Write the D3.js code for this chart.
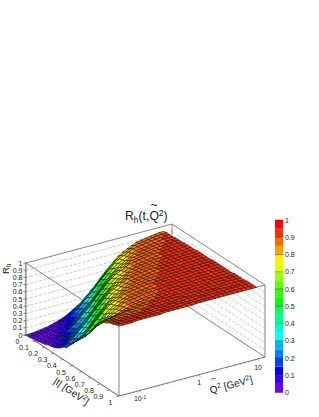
<!DOCTYPE html>
<html><head><meta charset="utf-8">
<style>html,body{margin:0;padding:0;background:#fff}svg{display:block}text{font-family:"Liberation Sans",Arial,sans-serif;fill:#222}</style>
<script src="https://cdn.jsdelivr.net/npm/d3@7/dist/d3.min.js"></script>
</head><body><svg id="c" width="319" height="417"></svg>
<script>
const tValues=[0,.033,.067,.1,.133,.167,.2,.233,.267,.3,.333,.367,.4,.433,.467,.5,.533,.567,.6,.633,.667,.7,.733,.767,.8,.833,.867,.9,.933,.967,1];
const qValues=[.046,.055,.066,.078,.094,.112,.134,.16,.191,.229,.273,.327,.391,.467,.559,.668,.799,.955,1.14,1.37,1.63,1.95,2.33,2.79,3.34,3.99,4.77,5.7,6.82,8.16,9.75];
const rValues=[
[0,0,.01,.02,.03,.04,.06,.08,.1,.13,.17,.21,.25,.31,.37,.43,.5,.57,.63,.69,.75,.79,.82,.85,.88,.89,.9,.91,.92,.93,.93],
[0,.01,.02,.03,.04,.06,.08,.1,.13,.17,.21,.25,.31,.37,.43,.5,.57,.63,.69,.75,.79,.82,.85,.88,.89,.9,.91,.92,.93,.93,.94],
[.01,.02,.03,.04,.06,.08,.1,.13,.17,.21,.25,.31,.37,.43,.5,.57,.63,.69,.75,.79,.82,.85,.88,.89,.9,.91,.92,.93,.93,.94,.94],
[.01,.02,.03,.05,.07,.09,.11,.15,.19,.23,.28,.34,.4,.46,.53,.6,.66,.72,.77,.8,.83,.86,.88,.89,.9,.91,.92,.93,.94,.94,.94],
[.02,.03,.04,.06,.08,.1,.13,.17,.21,.25,.31,.37,.43,.5,.57,.63,.69,.75,.79,.82,.85,.88,.89,.9,.91,.92,.93,.93,.94,.94,.95],
[.03,.04,.06,.08,.1,.13,.17,.21,.25,.31,.37,.43,.5,.57,.63,.69,.75,.79,.82,.85,.88,.89,.9,.91,.92,.93,.93,.94,.94,.95,.95],
[.04,.06,.08,.1,.13,.17,.21,.25,.31,.37,.43,.5,.57,.63,.69,.75,.79,.82,.85,.88,.89,.9,.91,.92,.93,.93,.94,.94,.95,.95,.95],
[.06,.08,.1,.13,.17,.21,.25,.31,.37,.43,.5,.57,.63,.69,.75,.79,.82,.85,.88,.89,.9,.91,.92,.93,.93,.94,.94,.95,.95,.95,.96],
[.07,.09,.11,.15,.19,.23,.28,.34,.4,.46,.53,.6,.66,.72,.77,.8,.83,.86,.88,.89,.9,.91,.92,.93,.94,.94,.95,.95,.95,.96,.96],
[.08,.1,.13,.17,.21,.25,.31,.37,.43,.5,.57,.63,.69,.75,.79,.82,.85,.88,.89,.9,.91,.92,.93,.93,.94,.94,.95,.95,.95,.96,.96],
[.1,.13,.17,.21,.25,.31,.37,.43,.5,.57,.63,.69,.75,.79,.82,.85,.88,.89,.9,.91,.92,.93,.93,.94,.94,.95,.95,.95,.96,.96,.96],
[.13,.17,.21,.25,.31,.37,.43,.5,.57,.63,.69,.75,.79,.82,.85,.88,.89,.9,.91,.92,.93,.93,.94,.94,.95,.95,.95,.96,.96,.96,.97],
[.17,.21,.25,.31,.37,.43,.5,.57,.63,.69,.75,.79,.82,.85,.88,.89,.9,.91,.92,.93,.93,.94,.94,.95,.95,.95,.96,.96,.96,.97,.97],
[.19,.23,.28,.34,.4,.46,.53,.6,.66,.72,.77,.8,.83,.86,.88,.89,.9,.91,.92,.93,.94,.94,.95,.95,.95,.96,.96,.96,.97,.97,.97],
[.25,.28,.31,.37,.43,.5,.57,.63,.69,.75,.79,.82,.85,.88,.89,.9,.91,.92,.93,.93,.94,.94,.95,.95,.95,.96,.96,.96,.97,.97,.97],
[.3,.33,.37,.43,.5,.57,.63,.69,.75,.79,.82,.85,.88,.89,.9,.91,.92,.93,.93,.94,.94,.95,.95,.95,.96,.96,.96,.97,.97,.97,.97],
[.36,.38,.43,.5,.57,.63,.69,.75,.79,.82,.85,.88,.89,.9,.91,.92,.93,.93,.94,.94,.95,.95,.95,.96,.96,.96,.97,.97,.97,.97,.98],
[.41,.45,.5,.57,.63,.69,.75,.79,.82,.85,.88,.89,.9,.91,.92,.93,.93,.94,.94,.95,.95,.95,.96,.96,.96,.97,.97,.97,.97,.98,.98],
[.46,.49,.53,.59,.65,.71,.76,.8,.83,.86,.88,.89,.9,.91,.92,.93,.94,.94,.95,.95,.95,.96,.96,.96,.97,.97,.97,.97,.98,.98,.98],
[.51,.55,.6,.65,.7,.75,.79,.82,.85,.88,.89,.9,.91,.92,.93,.93,.94,.94,.95,.95,.95,.96,.96,.96,.97,.97,.97,.97,.98,.98,.98],
[.58,.62,.66,.7,.74,.78,.82,.85,.88,.89,.9,.91,.92,.93,.93,.94,.94,.95,.95,.95,.96,.96,.96,.97,.97,.97,.97,.98,.98,.98,.98],
[.66,.69,.72,.75,.78,.81,.83,.86,.88,.89,.9,.91,.92,.93,.93,.94,.94,.95,.95,.95,.96,.96,.96,.97,.97,.97,.97,.98,.98,.98,.98],
[.72,.75,.77,.79,.81,.83,.85,.87,.89,.9,.91,.92,.93,.93,.94,.94,.95,.95,.95,.96,.96,.96,.97,.97,.97,.97,.98,.98,.98,.98,.98],
[.79,.8,.82,.83,.85,.86,.88,.89,.9,.91,.92,.93,.93,.94,.94,.95,.95,.95,.96,.96,.96,.97,.97,.97,.97,.98,.98,.98,.98,.98,.99],
[.85,.86,.87,.88,.89,.9,.91,.91,.92,.93,.93,.94,.94,.95,.95,.95,.96,.96,.96,.97,.97,.97,.97,.98,.98,.98,.98,.98,.99,.99,.99],
[.88,.89,.89,.9,.91,.91,.92,.92,.93,.93,.94,.94,.95,.95,.95,.96,.96,.96,.97,.97,.97,.97,.98,.98,.98,.98,.98,.99,.99,.99,.99],
[.9,.91,.91,.92,.92,.93,.93,.93,.94,.94,.95,.95,.95,.96,.96,.96,.97,.97,.97,.97,.98,.98,.98,.98,.98,.99,.99,.99,.99,.99,.99],
[.93,.93,.93,.94,.94,.94,.94,.95,.95,.95,.96,.96,.96,.97,.97,.97,.97,.98,.98,.98,.98,.98,.99,.99,.99,.99,.99,.99,.99,1,1],
[.94,.94,.95,.95,.95,.95,.96,.96,.96,.96,.97,.97,.97,.97,.98,.98,.98,.98,.98,.99,.99,.99,.99,.99,.99,1,1,1,1,1,1],
[.96,.96,.96,.96,.96,.97,.97,.97,.97,.97,.98,.98,.98,.98,.98,.99,.99,.99,.99,.99,.99,.99,1,1,1,1,1,1,1,1,1],
[.97,.97,.97,.97,.98,.98,.98,.98,.98,.98,.99,.99,.99,.99,.99,.99,.99,1,1,1,1,1,1,1,1,1,1,1,1,1,1]
];
const palette=["#6a00ff","#3300ff","#0000ff","#0040ff","#0080ff","#00b4ff","#00ffff","#00ffc8","#00ff90","#00ff60","#00ff00","#30ff00","#60ff00","#a0ff00","#e0ff00","#fff000","#ffa000","#ff6a00","#ff3000","#ff0000"];
const zTicks=[0,.1,.2,.3,.4,.5,.6,.7,.8,.9,1];
const tTicks=[0,.1,.2,.3,.4,.5,.6,.7,.8,.9,1];
const qLabels=[[.1,"10","-1"],[1,"1",""],[10,"10",""]];

const svg=d3.select("#c");
const tS=d3.scaleLinear().domain([0,1]).range([0,1]);
const qS=d3.scaleLog().domain([.0457,13.6]).range([0,1]);
const zS=d3.scaleLinear().domain([0,1]).range([0,72]);
const colour=d3.scaleQuantize().domain([0,1]).range(palette);
const P=(t,q,z)=>{const u=tS(t),v=qS(q);return [26+93*u+146*v,335+61*u-39*v-zS(z)];};
const Qa=.0457,Qb=13.6;
const line=d3.line();
const seg=(a,b,col,w,dash)=>svg.append("path").attr("d",line([a,b])).attr("fill","none").attr("stroke",col).attr("stroke-width",w).attr("stroke-dasharray",dash||null);

// walls
zTicks.slice(1,10).forEach(z=>{
  seg(P(0,Qa,z),P(0,Qb,z),"#b4b4b4",.7,"3 1.5");
  seg(P(0,Qb,z),P(1,Qb,z),"#b4b4b4",.7,"3 1.5");
});
const G="#777";
seg(P(0,Qa,0),P(0,Qb,0),G,.9);
seg(P(0,Qb,0),P(1,Qb,0),G,.9);
seg(P(0,Qb,0),P(0,Qb,1),G,.9);
seg(P(0,Qa,1),P(0,Qb,1),G,.9);
seg(P(0,Qb,1),P(1,Qb,1),G,.9);
seg(P(1,Qb,0),P(1,Qb,1),G,.9);
seg(P(0,Qa,1),P(1,Qa,1),G,.9);
seg(P(1,Qa,1),P(1,Qb,1),G,.9);
seg(P(1,Qa,0),P(1,Qa,1),G,.9);

// surface, back to front; each cell takes the band just below its mean height
const cells=[];
for(let i=0;i<tValues.length-1;i++)for(let j=qValues.length-2;j>=0;j--)cells.push([i,j]);
svg.append("g").selectAll("path").data(cells).join("path")
 .attr("d",([i,j])=>line([P(tValues[i],qValues[j],rValues[i][j]),P(tValues[i+1],qValues[j],rValues[i+1][j]),P(tValues[i+1],qValues[j+1],rValues[i+1][j+1]),P(tValues[i],qValues[j+1],rValues[i][j+1])])+"Z")
 .attr("fill",([i,j])=>colour(Math.max(0,Math.min(.949,(rValues[i][j]+rValues[i+1][j]+rValues[i][j+1]+rValues[i+1][j+1])/4-.035))))
 .attr("stroke","#000").attr("stroke-width",.5).attr("stroke-linejoin","round");

// axes
const A="#555";
seg(P(0,Qa,0),P(0,Qa,1),A,.8);
seg(P(0,Qa,0),P(1,Qa,0),A,.8);
seg(P(1,Qa,0),P(1,Qb,0),A,.8);
zTicks.forEach(z=>{const p=P(0,Qa,z);
  seg([p[0]-2.5,p[1]],p,A,.7);
  svg.append("text").attr("x",p[0]-3.5).attr("y",p[1]+2.5).attr("text-anchor","end").attr("font-size",7).text(z);
});
d3.range(0,1.0001,.02).forEach(z=>{const p=P(0,Qa,z);seg([p[0]-1.3,p[1]],p,A,.4);});
d3.range(0,1.0001,.02).forEach(t=>{const p=P(t,Qa,0);seg([p[0]-1.3,p[1]+.35],p,A,.4);});
tTicks.forEach(t=>{const p=P(t,Qa,0);
  seg([p[0]-2.6,p[1]+.7],p,A,.7);
  svg.append("text").attr("x",p[0]-6.5).attr("y",p[1]+9).attr("text-anchor","end").attr("font-size",7).text(t);
});
qS.ticks().filter(q=>q>=Qa&&q<=Qb).forEach(q=>{const p=P(1,q,0);
  const l=(Math.abs(q-.1)<1e-6||Math.abs(q-1)<1e-6||Math.abs(q-10)<1e-6)?3:1.6;
  seg(p,[p[0]+l*.84,p[1]+l*.55],A,.5);
});
qLabels.forEach(([q,a,b])=>{const p=P(1,q,0);
  const t=svg.append("text").attr("x",p[0]+1).attr("y",p[1]+10.5).attr("text-anchor","middle").attr("font-size",7);
  t.append("tspan").text(a);
  if(b)t.append("tspan").attr("dy",-2.5).attr("font-size",5).text(b);
});

// titles
const title=svg.append("text").attr("x",125).attr("y",220).attr("font-size",12.2);
title.append("tspan").text("R");
title.append("tspan").attr("dy",3).attr("font-size",8.5).text("h");
title.append("tspan").attr("dy",-3).text("(t,Q");
title.append("tspan").attr("dy",-4).attr("font-size",8.5).text("2");
title.append("tspan").attr("dy",4).text(")");
svg.append("text").attr("x",154).attr("y",208.5).attr("text-anchor","middle").attr("font-size",12).text("~");

const rh=svg.append("text").attr("transform","translate(8.5,274) rotate(-90)").attr("font-size",9.5);
rh.append("tspan").text("R");rh.append("tspan").attr("dy",2).attr("font-size",6.5).text("h");

const tl=svg.append("text").attr("transform","translate(69.5,394) rotate(34)").attr("text-anchor","middle").attr("font-size",10);
tl.append("tspan").text("|t| [GeV");tl.append("tspan").attr("dy",-3.5).attr("font-size",7).text("2");tl.append("tspan").attr("dy",3.5).text("]");

const ql=svg.append("text").attr("transform","translate(232,388) rotate(-15)").attr("text-anchor","middle").attr("font-size",10);
ql.append("tspan").text("Q");ql.append("tspan").attr("dy",-3.5).attr("font-size",7).text("2");ql.append("tspan").attr("dy",3.5).text(" [GeV");ql.append("tspan").attr("dy",-3.5).attr("font-size",7).text("2");ql.append("tspan").attr("dy",3.5).text("]");
svg.append("text").attr("transform","translate(214,382) rotate(-15)").attr("font-size",10).attr("text-anchor","middle").text("~");

// palette
const lx=275,lw=8;
const ly=d3.scaleLinear().domain([0,1]).range([392.5,220]);
svg.append("g").selectAll("rect").data(palette).join("rect")
 .attr("x",lx).attr("width",lw).attr("y",(d,i)=>ly((i+1)/20)).attr("height",(d,i)=>ly(i/20)-ly((i+1)/20)).attr("fill",d=>d);
zTicks.forEach(z=>{
  seg([lx,ly(z)],[lx+lw+.5,ly(z)],"#000",.6).attr("stroke-opacity",.55);
  svg.append("text").attr("x",lx+lw+2).attr("y",ly(z)+2.5).attr("font-size",7).text(z);
});
</script></body></html>
